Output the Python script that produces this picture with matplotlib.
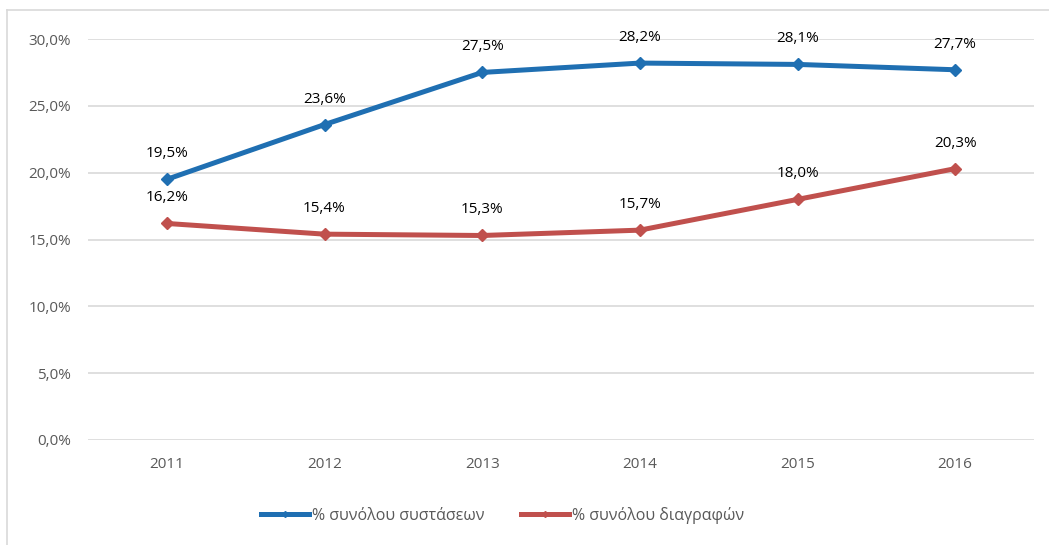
import matplotlib.pyplot as plt
from matplotlib.lines import Line2D

plt.rcParams['font.family'] = ['Open Sans', 'DejaVu Sans']

# Δεδομένα
years = ["2011", "2012", "2013", "2014", "2015", "2016"]
systaseis = [19.5, 23.6, 27.5, 28.2, 28.1, 27.7]
diagrafes = [16.2, 15.4, 15.3, 15.7, 18.0, 20.3]
names = ["% συνόλου συστάσεων", "% συνόλου διαγραφών"]
colors = ["#1F6FB2", "#C0504D"]

fig = plt.figure(figsize=(10.49, 5.45), dpi=100)
ax = fig.add_axes([0.0839, 0.1927, 0.9018, 0.7357])

x = range(len(years))
for vals, name, c in zip([systaseis, diagrafes], names, colors):
    ax.plot(x, vals, color=c, lw=3.6, marker="D", markersize=6.5,
            solid_capstyle="round", label=name, zorder=3)
    for xi, v in zip(x, vals):
        ax.annotate(f"{v:.1f}%".replace(".", ","), (xi, v),
                    xytext=(0, 13), textcoords="offset points",
                    ha="center", va="bottom", fontsize=11, color="black")

ax.set_xlim(-0.5, len(years) - 0.5)
ax.set_ylim(0, 30)
ax.set_yticks(range(0, 31, 5))
ax.set_yticklabels([f"{v:.1f}%".replace(".", ",") for v in range(0, 31, 5)])
ax.set_xticks(list(x))
ax.set_xticklabels(years)
ax.tick_params(axis="both", length=0, labelsize=11, labelcolor="#595959")
ax.tick_params(axis="y", pad=12)
ax.tick_params(axis="x", pad=12)
ax.grid(axis="y", color="#D9D9D9", lw=1.2)
ax.set_axisbelow(True)
for s in ax.spines.values():
    s.set_visible(False)

# Legend
handles = [Line2D([], [], color=c, lw=3.6, marker="D", markersize=3) for c in colors]
fig.legend(handles, names, loc="center", bbox_to_anchor=(0.479, 0.055), ncol=2,
           frameon=False, fontsize=11.5, labelcolor="#595959", handlelength=3,
           handletextpad=0.2, columnspacing=2.3)

# Outer chart border
fig.add_artist(Line2D([7/1049, 7/1049], [0, 1 - 10/545], color="#D9D9D9", lw=1.2,
                      transform=fig.transFigure))
fig.add_artist(Line2D([7/1049, 1], [1 - 10/545, 1 - 10/545], color="#D9D9D9", lw=1.2,
                      transform=fig.transFigure))

fig.savefig("out.png", dpi=100)
